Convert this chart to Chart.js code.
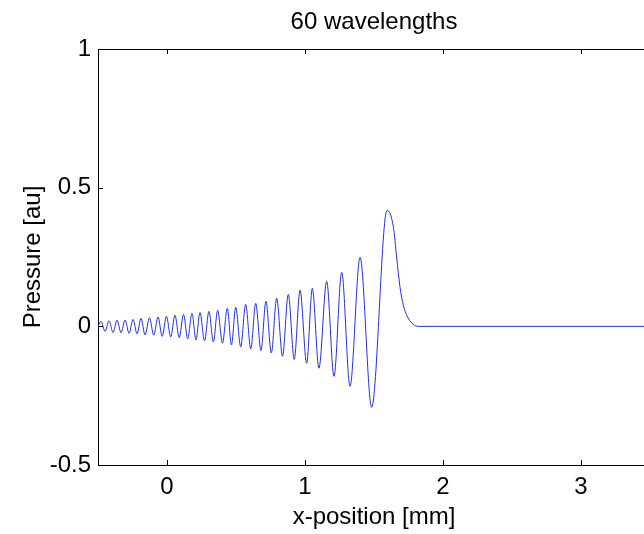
<!DOCTYPE html>
<html>
<head>
<meta charset="utf-8">
<script src="https://cdn.jsdelivr.net/npm/chart.js@4.4.1/dist/chart.umd.min.js"></script>
<style>
    html, body { margin: 0; padding: 0; background: #fff; overflow: hidden; }
    #wrap { width: 652px; height: 534px; }
</style>
</head>
<body>
<div id="wrap"><canvas id="waveChart" width="652" height="534"></canvas></div>
<script>
// x-position of the curve's turning points [mm]
const posMm = [
    -0.5, -0.478, -0.449, -0.420, -0.391, -0.362, -0.333, -0.304, -0.275, -0.246,
    -0.217, -0.188, -0.159, -0.127, -0.096, -0.065, -0.035, -0.004, 0.027, 0.058,
    0.088, 0.120, 0.150, 0.181, 0.210, 0.239, 0.272, 0.304, 0.336, 0.367,
    0.402, 0.437, 0.467, 0.498, 0.534, 0.570, 0.607, 0.643, 0.681, 0.717,
    0.756, 0.795, 0.837, 0.879, 0.922, 0.964, 1.012, 1.053, 1.101, 1.157,
    1.210, 1.266, 1.326, 1.399, 1.483, 1.594, 1.640, 1.664, 1.688, 1.712,
    1.749, 1.785, 1.821, 3.5
];
// pressure at those points [au]
const pressure = [
    0, 0.018, -0.018, 0.020, -0.022, 0.022, -0.023, 0.023, -0.025, 0.025,
    -0.027, 0.029, -0.031, 0.031, -0.032, 0.034, -0.036, 0.036, -0.038, 0.040,
    -0.041, 0.043, -0.045, 0.047, -0.049, 0.050, -0.052, 0.054, -0.056, 0.058,
    -0.061, 0.065, -0.067, 0.069, -0.074, 0.079, -0.081, 0.083, -0.087, 0.090,
    -0.096, 0.101, -0.108, 0.115, -0.119, 0.130, -0.133, 0.137, -0.151, 0.162,
    -0.180, 0.195, -0.216, 0.249, -0.292, 0.418, 0.360, 0.250, 0.143, 0.077,
    0.029, 0.007, 0.0, 0.0
];
const xTicks = [0, 1, 2, 3];
const yTicks = [-0.5, 0, 0.5, 1];
const titleText = '60 wavelengths';
const xLabel = 'x-position [mm]';
const yLabel = 'Pressure [au]';

const FONT = "'Liberation Sans', Arial, Helvetica, sans-serif";

// MATLAB style box: top edge plus ticks pointing inwards
const boxPlugin = {
    id: 'matlabBox',
    afterDraw(chart) {
        const ctx = chart.ctx;
        const area = chart.chartArea;
        const xs = chart.scales.x;
        const ys = chart.scales.y;
        const len = 5;
        ctx.save();
        ctx.strokeStyle = '#000';
        ctx.lineWidth = 1;
        ctx.beginPath();
        ctx.moveTo(area.left, area.top + 0.5);
        ctx.lineTo(area.right, area.top + 0.5);
        xTicks.forEach(v => {
            const px = Math.round(xs.getPixelForValue(v)) + 0.5;
            ctx.moveTo(px, area.bottom);
            ctx.lineTo(px, area.bottom - len);
            ctx.moveTo(px, area.top);
            ctx.lineTo(px, area.top + len);
        });
        yTicks.forEach(v => {
            const py = Math.round(ys.getPixelForValue(v)) + 0.5;
            ctx.moveTo(area.left, py);
            ctx.lineTo(area.left + len, py);
        });
        ctx.stroke();
        ctx.restore();
    }
};

const points = posMm.map((x, i) => ({ x: x, y: pressure[i] }));

new Chart(document.getElementById('waveChart'), {
    type: 'line',
    data: {
        datasets: [{
            data: points,
            borderColor: 'rgb(30, 50, 225)',
            borderWidth: 1,
            pointRadius: 0,
            fill: false,
            cubicInterpolationMode: 'monotone'
        }]
    },
    options: {
        responsive: false,
        animation: false,
        devicePixelRatio: 1,
        layout: { padding: { top: 0, right: 2, bottom: 0, left: 0 } },
        plugins: {
            legend: { display: false },
            tooltip: { enabled: false },
            title: {
                display: true,
                text: titleText,
                fullSize: false,
                color: '#000',
                font: { family: FONT, size: 24, weight: 'normal', lineHeight: 1.2 },
                padding: { top: 7.6, bottom: 12.6 }
            }
        },
        scales: {
            x: {
                type: 'linear',
                min: -0.5,
                max: 3.5,
                afterBuildTicks: s => { s.ticks = xTicks.map(v => ({ value: v })); },
                afterFit: s => { s.height = 69; },
                grid: { display: false, drawTicks: false },
                border: { display: true, color: '#000', width: 1 },
                ticks: {
                    color: '#000',
                    padding: 8,
                    maxRotation: 0,
                    callback: v => String(v),
                    font: { family: FONT, size: 24 }
                },
                title: {
                    display: true,
                    text: xLabel,
                    color: '#000',
                    font: { family: FONT, size: 24, lineHeight: 1.2 },
                    padding: { top: 0, bottom: 2 }
                }
            },
            y: {
                type: 'linear',
                min: -0.5,
                max: 1,
                afterBuildTicks: s => { s.ticks = yTicks.map(v => ({ value: v })); },
                afterFit: s => { s.width = 98; },
                grid: { display: false, drawTicks: false },
                border: { display: true, color: '#000', width: 1 },
                ticks: {
                    color: '#000',
                    padding: 7,
                    callback: v => String(v),
                    font: { family: FONT, size: 24 }
                },
                title: {
                    display: true,
                    text: yLabel,
                    color: '#000',
                    font: { family: FONT, size: 24, lineHeight: 1.2 },
                    padding: { top: 19, bottom: 0 }
                }
            }
        }
    },
    plugins: [boxPlugin]
});
</script>
</body>
</html>
